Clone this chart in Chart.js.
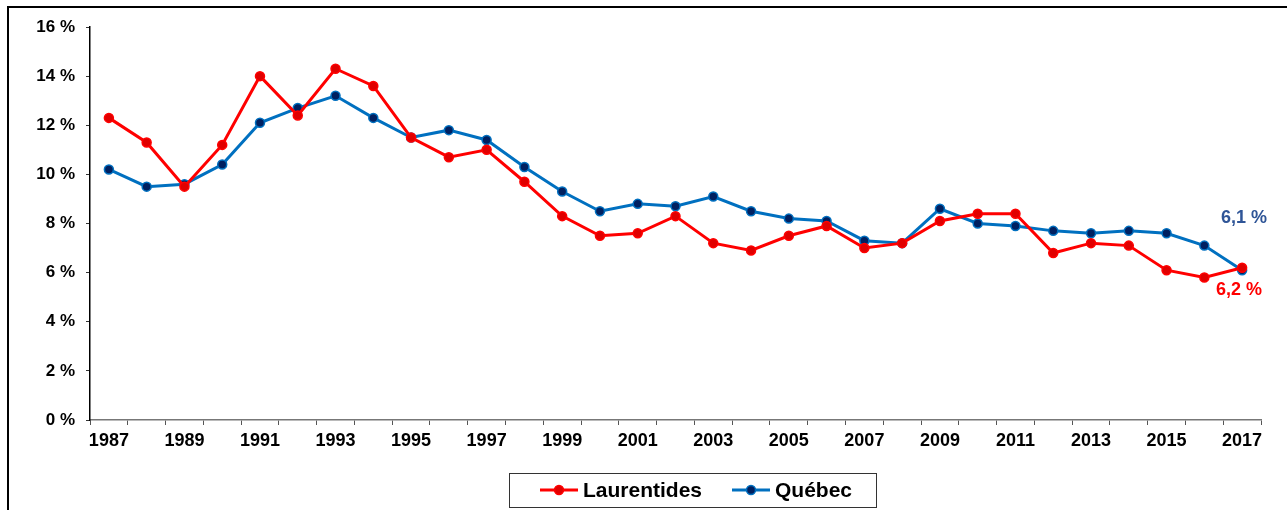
<!DOCTYPE html>
<html>
<head>
<meta charset="utf-8">
<script src="https://cdn.jsdelivr.net/npm/chart.js@4"></script>
<style>
	body { margin: 0; background: #fff; }
	canvas { display: block; }
</style>
</head>
<body>
<canvas id="chomage" width="1287" height="510"></canvas>
<script>
const years = ["1987", "1988", "1989", "1990", "1991", "1992", "1993", "1994", "1995", "1996",
	"1997", "1998", "1999", "2000", "2001", "2002", "2003", "2004", "2005", "2006",
	"2007", "2008", "2009", "2010", "2011", "2012", "2013", "2014", "2015", "2016", "2017"];

const laurentides = [12.3, 11.3, 9.5, 11.2, 14.0, 12.4, 14.3, 13.6, 11.5, 10.7,
	11.0, 9.7, 8.3, 7.5, 7.6, 8.3, 7.2, 6.9, 7.5, 7.9,
	7.0, 7.2, 8.1, 8.4, 8.4, 6.8, 7.2, 7.1, 6.1, 5.8, 6.2];

const quebec = [10.2, 9.5, 9.6, 10.4, 12.1, 12.7, 13.2, 12.3, 11.5, 11.8,
	11.4, 10.3, 9.3, 8.5, 8.8, 8.7, 9.1, 8.5, 8.2, 8.1,
	7.3, 7.2, 8.6, 8.0, 7.9, 7.7, 7.6, 7.7, 7.6, 7.1, 6.1];

const seriesNames = ["Laurentides", "Québec"];
const endLabels = ["6,2 %", "6,1 %"];

const FONT = "'Liberation Sans', Arial, sans-serif";

// frame, boxed legend under the axis and the 2017 value labels
const framePlugin = {
	id: "frame",
	beforeDraw(chart) {
		const ctx = chart.ctx;
		ctx.save();
		ctx.fillStyle = "#fff";
		ctx.fillRect(0, 0, chart.width, chart.height);
		ctx.strokeStyle = "#000";
		ctx.lineWidth = 2;
		ctx.beginPath();
		ctx.moveTo(8, chart.height + 2);
		ctx.lineTo(8, 7);
		ctx.lineTo(chart.width + 2, 7);
		ctx.stroke();
		ctx.restore();
	},
	afterDraw(chart) {
		const ctx = chart.ctx;
		ctx.save();
		ctx.strokeStyle = "#333";
		ctx.lineWidth = 1;
		ctx.strokeRect(509.5, 473.5, 367, 34);

		ctx.font = "bold 21px " + FONT;
		ctx.textBaseline = "middle";
		ctx.textAlign = "left";
		const items = [
			{ x: 540, ds: chart.data.datasets[0] },
			{ x: 732, ds: chart.data.datasets[1] }
		];
		items.forEach((it, i) => {
			const y = 490;
			ctx.strokeStyle = it.ds.borderColor;
			ctx.lineWidth = 3;
			ctx.beginPath();
			ctx.moveTo(it.x, y);
			ctx.lineTo(it.x + 38, y);
			ctx.stroke();
			ctx.fillStyle = it.ds.pointBackgroundColor;
			ctx.lineWidth = 1.5;
			ctx.beginPath();
			ctx.arc(it.x + 19, y, 4.5, 0, Math.PI * 2);
			ctx.fill();
			ctx.stroke();
			ctx.fillStyle = "#000";
			ctx.fillText(seriesNames[i], it.x + 43, y + 1);
		});

		ctx.font = "bold 18px " + FONT;
		ctx.textAlign = "center";
		const red = chart.getDatasetMeta(0).data[years.length - 1];
		const blue = chart.getDatasetMeta(1).data[years.length - 1];
		ctx.fillStyle = "#ff0000";
		ctx.fillText(endLabels[0], red.x - 3, red.y + 22);
		ctx.fillStyle = "#2f5597";
		ctx.fillText(endLabels[1], blue.x + 2, blue.y - 52);
		ctx.restore();
	}
};

new Chart(document.getElementById("chomage"), {
	type: "line",
	data: {
		labels: years,
		datasets: [
			{
				label: seriesNames[0],
				data: laurentides,
				borderColor: "#ff0000",
				backgroundColor: "#e00000",
				pointBackgroundColor: "#e00000",
				pointBorderColor: "#ff0000",
				borderWidth: 3,
				pointRadius: 4.5,
				pointBorderWidth: 1.5,
				tension: 0
			},
			{
				label: seriesNames[1],
				data: quebec,
				borderColor: "#0070c0",
				backgroundColor: "#002060",
				pointBackgroundColor: "#002060",
				pointBorderColor: "#0070c0",
				borderWidth: 3,
				pointRadius: 4.5,
				pointBorderWidth: 1.5,
				tension: 0
			}
		]
	},
	options: {
		responsive: false,
		animation: false,
		layout: {
			padding: { left: 0, right: 26, top: 27, bottom: 46 }
		},
		plugins: {
			title: { display: false },
			tooltip: { enabled: false },
			legend: { display: false }
		},
		scales: {
			x: {
				offset: true,
				afterFit(scale) { scale.height = 44; },
				grid: {
					offset: true,
					drawOnChartArea: false,
					drawTicks: true,
					tickLength: 5,
					color: "#555"
				},
				border: { display: true, color: "#777", width: 1.5 },
				ticks: {
					autoSkip: false,
					maxRotation: 0,
					padding: 5,
					color: "#000",
					font: { family: FONT, size: 18, weight: "bold" },
					callback(value, index) {
						return index % 2 === 0 ? years[index] : "";
					}
				}
			},
			y: {
				min: 0,
				max: 16,
				afterFit(scale) { scale.width = 90; },
				grid: {
					drawOnChartArea: false,
					drawTicks: true,
					tickLength: 4,
					color: "#333"
				},
				border: { display: true, color: "#000", width: 1.5 },
				ticks: {
					stepSize: 2,
					padding: 11,
					color: "#000",
					font: { family: FONT, size: 17, weight: "bold" },
					callback(value) { return value + " %"; }
				}
			}
		}
	},
	plugins: [framePlugin]
});
</script>
</body>
</html>
